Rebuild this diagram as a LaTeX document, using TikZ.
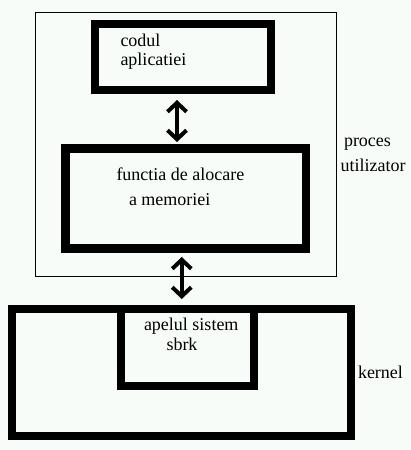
\documentclass[tikz,border=0pt]{standalone}
\usepackage{fontspec}
\setmainfont{Liberation Serif}
\usetikzlibrary{arrows.meta}
\definecolor{bgc}{RGB}{248,252,248}
\tikzset{
  thickbox/.style={draw=black, rectangle, inner sep=0pt, outer sep=0pt, line width=8pt},
  thinbox/.style={draw=black, rectangle, inner sep=0pt, outer sep=0pt, line width=1pt},
  lbl/.style={anchor=base west, inner sep=0pt, outer sep=0pt, font=\fontsize{18}{20}\selectfont},
  dbl/.style={line width=4pt, {Straight Barb[length=9pt,width=19pt]}-{Straight Barb[length=9pt,width=19pt]}}
}
\begin{document}
\begin{tikzpicture}[x=1pt,y=-1pt]
\fill[bgc] (0,0) rectangle (410,450);
\useasboundingbox (0,0) rectangle (410,450);
% outer process frame
\node[thinbox, minimum width=301pt, minimum height=264pt] (proc) at (186,144.5) {};
% boxes
\node[thickbox, minimum width=176pt, minimum height=66pt] (cod) at (183,57) {};
\node[thickbox, line width=8.5pt, minimum width=240.5pt, minimum height=100pt] (fa) at (185.75,198.5) {};
\node[thickbox, minimum width=339pt, minimum height=127pt] (kern) at (181.5,372.5) {};
\node[thickbox, minimum width=133pt, minimum height=76.5pt] (sbrk) at (187.5,347.25) {};
% labels
\node[lbl] (t1) at (120.5,46) {codul};
\node[lbl] (t2) at (120.5,65.5) {aplicatiei};
\node[lbl] (t3) at (116.5,180) {functia de alocare};
\node[lbl] (t4) at (129,205) {a memoriei};
\node[lbl] (t5) at (344,146) {proces};
\node[lbl] (t6) at (340.5,171.5) {utilizator};
\node[lbl] (t7) at (144,330) {apelul sistem};
\node[lbl] (t8) at (166.5,350) {sbrk};
\node[lbl] (t9) at (358,378) {kernel};
% arrows
\draw[dbl, shorten <=10pt, shorten >=6.5pt] ([xshift=-6pt]cod.south) -- ([xshift=-6pt]cod.south |- fa.north);
\draw[dbl, shorten <=8.5pt, shorten >=10pt] ([xshift=-4pt]fa.south) -- ([xshift=-4pt]fa.south |- kern.north);
\end{tikzpicture}
\end{document}
